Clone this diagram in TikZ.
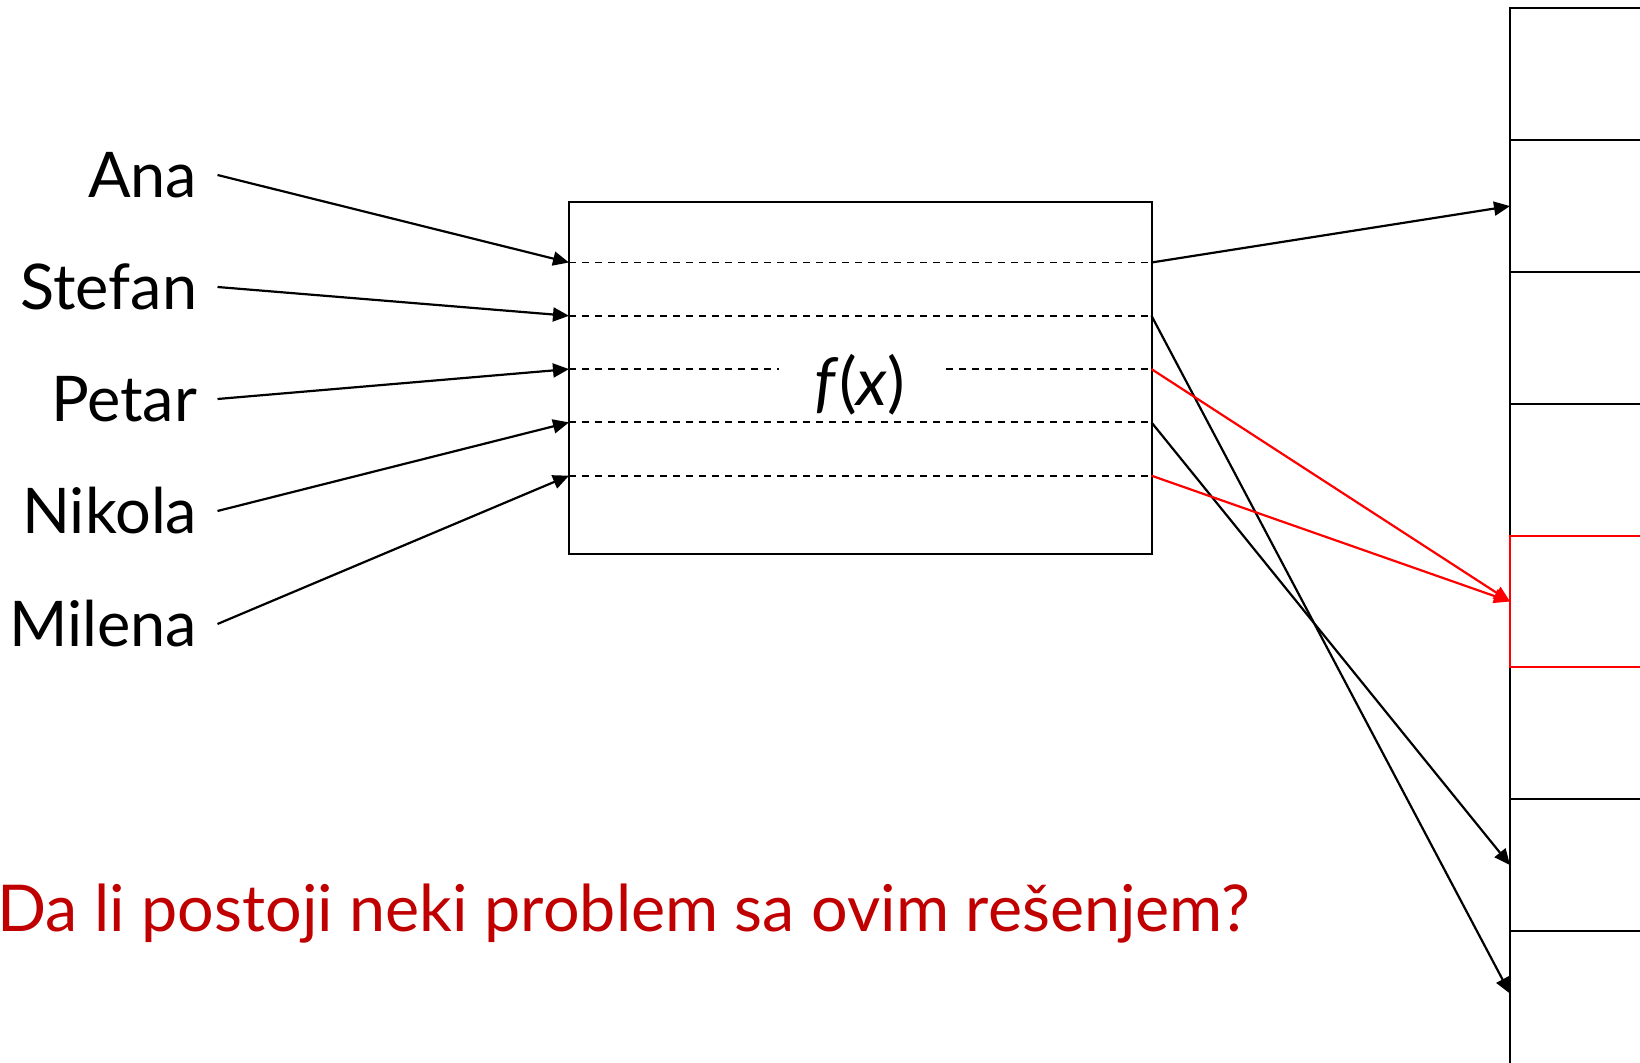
\documentclass[tikz,border=0pt]{standalone}
\usepackage{fontspec}
\setmainfont{Lato}
\usetikzlibrary{arrows.meta}
\definecolor{darkred}{RGB}{192,0,0}
\begin{document}
\begin{tikzpicture}[x=0.5pt,y=-0.5pt,
  namelabel/.style={anchor=east, inner xsep=10pt, inner ysep=0pt, text height=23pt, text depth=0pt, font=\fontsize{31.5}{36}\selectfont},
  conn/.style={line width=1.1pt, -{Triangle[length=8pt,width=7pt]}},
  redconn/.style={conn, red},
  slot/.style={dash pattern=on 3.5pt off 3pt, line width=0.9pt},
  cell/.style={draw, line width=1pt, rectangle, anchor=north west, minimum width=150pt, minimum height=65.9pt, outer sep=0pt, inner sep=0pt},
]
\useasboundingbox (0,0) rectangle (1640,1063);

% names
\node[namelabel] (ana)    at (217.5,175) {Ana};
\node[namelabel] (stefan) at (217.5,287) {Stefan};
\node[namelabel] (petar)  at (217.5,399) {Petar};
\node[namelabel] (nikola) at (217.5,511) {Nikola};
\node[namelabel] (milena) at (217.5,624) {Milena};

% hash box
\node[draw, line width=1pt, rectangle, anchor=north west, minimum width=291.25pt, minimum height=176.2pt, outer sep=0pt, inner sep=0pt] (hashbox) at (569,202) {};
\coordinate (l1) at (569,262.5);   \coordinate (r1) at (1151.5,262.5);
\coordinate (l2) at (569,315.8);   \coordinate (r2) at (1151.5,315.8);
\coordinate (l3) at (569,369.1);   \coordinate (r3) at (1151.5,369.1);
\coordinate (l4) at (569,422.4);   \coordinate (r4) at (1151.5,422.4);
\coordinate (l5) at (569,475.7);   \coordinate (r5) at (1151.5,475.7);

\draw[slot] (l1) -- (r1);
\draw[slot] (l2) -- (r2);
\draw[slot] (l3) -- (r3);
\node[fill=white, inner xsep=18pt, inner ysep=4pt, font=\fontsize{33}{36}\selectfont] (fx) at (860,385) {\textit{f}(\textit{x})};
\draw[slot] (l4) -- (r4);
\draw[slot] (l5) -- (r5);

% table column
\node[cell] (c1) at (1510,8.4) {};
\node[cell] (c2) at (1510,140.2) {};
\node[cell] (c3) at (1510,272.0) {};
\node[cell] (c4) at (1510,403.8) {};
\node[cell] (c6) at (1510,667.4) {};
\node[cell] (c7) at (1510,799.2) {};
\node[cell, minimum height=100pt] (c8) at (1510,931.0) {};
\node[cell, draw=red] (c5) at (1510,535.6) {};

% incoming arrows
\draw[conn] (ana.east) -- (l1);
\draw[conn] (stefan.east) -- (l2);
\draw[conn] (petar.east) -- (l3);
\draw[conn] (nikola.east) -- (l4);
\draw[conn] (milena.east) -- (l5);

% outgoing arrows
\draw[conn] (r1) -- (c2.west);
\draw[conn] (r2) -- ([yshift=-31.3pt]c8.north west);
\draw[redconn] (r3) -- (c5.west);
\draw[conn] (r4) -- (c7.west);
\draw[redconn] (r5) -- (c5.west);

% question
\node[anchor=base west, text=darkred, inner sep=0pt, font=\fontsize{32.3}{36}\selectfont] (question) at (-3,931) {Da li postoji neki problem sa ovim rešenjem?};
\end{tikzpicture}
\end{document}
